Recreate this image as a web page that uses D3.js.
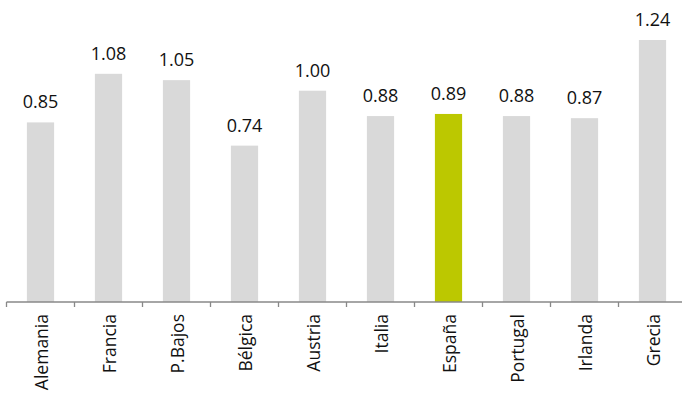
<!DOCTYPE html>
<html>
<head>
<meta charset="utf-8">
<script src="https://cdn.jsdelivr.net/npm/d3@7"></script>
<style>
  body { margin: 0; background: #fff; }
  svg { display: block; font-family: "Open Sans", sans-serif; }
</style>
</head>
<body>
<div id="chart"></div>
<script>
var countries = ['Alemania', 'Francia', 'P.Bajos', 'Bélgica', 'Austria', 'Italia', 'España', 'Portugal', 'Irlanda', 'Grecia'];
var values = [0.85, 1.08, 1.05, 0.74, 1.00, 0.88, 0.89, 0.88, 0.87, 1.24];
var highlight = 'España';

var width = 682, height = 395;
var baseY = 302;

var x = d3.scaleBand()
    .domain(countries)
    .range([6.5, 686.5])
    .paddingInner(0.6)
    .paddingOuter(0.3);

var y = d3.scaleLinear()
    .domain([0, 1.24])
    .range([baseY, 40]);

var svg = d3.select('#chart')
    .append('svg')
    .attr('width', width)
    .attr('height', height);

//Bars
svg.selectAll('.bar')
    .data(countries)
    .enter()
    .append('rect')
    .attr('class', 'bar')
    .attr('x', function(d){ return x(d); })
    .attr('width', x.bandwidth())
    .attr('y', function(d, i){ return y(values[i]); })
    .attr('height', function(d, i){ return baseY - y(values[i]); })
    .style('fill', function(d){ return d === highlight ? '#bcc800' : '#d9d9d9'; });

//Value labels
svg.selectAll('.val')
    .data(countries)
    .enter()
    .append('text')
    .attr('x', function(d){ return x(d) + x.bandwidth() / 2; })
    .attr('y', function(d, i){ return y(values[i]) - 14; })
    .attr('text-anchor', 'middle')
    .style('font-size', '18px')
    .style('fill', '#111')
    .text(function(d, i){ return values[i].toFixed(2); });

//Axis with ticks between bands
var axis = svg.append('g').attr('transform', 'translate(0,' + baseY + ')');
axis.append('line')
    .attr('x1', 6.5).attr('x2', 686.5)
    .attr('stroke', '#888').attr('stroke-width', 1.3);
var step = x.step();
axis.selectAll('.tick')
    .data(d3.range(countries.length + 1))
    .enter()
    .append('line')
    .attr('x1', function(i){ return 6.5 + i * step; })
    .attr('x2', function(i){ return 6.5 + i * step; })
    .attr('y1', 0).attr('y2', 5)
    .attr('stroke', '#888').attr('stroke-width', 1.3);

axis.selectAll('.cat')
    .data(countries)
    .enter()
    .append('text')
    .attr('transform', function(d){
        return 'translate(' + (x(d) + x.bandwidth() / 2 + 1) + ',12) rotate(-90)';
    })
    .attr('text-anchor', 'end')
    .attr('dy', '0.35em')
    .style('font-size', '17.5px')
    .style('fill', '#111')
    .text(function(d){ return d; });
</script>
</body>
</html>
